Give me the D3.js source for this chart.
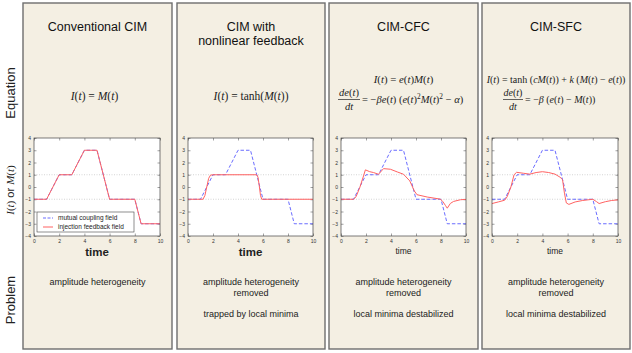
<!DOCTYPE html>
<html><head><meta charset="utf-8">
<script src="https://cdn.jsdelivr.net/npm/d3@7"></script>
<style>body{margin:0;background:#fff}svg{display:block}</style></head>
<body>
<script>
// ---- data ----
const panelTitles = [["Conventional CIM"], ["CIM with", "nonlinear feedback"], ["CIM-CFC"], ["CIM-SFC"]];
const problemTexts = [
  ["amplitude heterogeneity"],
  ["amplitude heterogeneity", "removed", "", "trapped by local minima"],
  ["amplitude heterogeneity", "removed", "", "local minima destabilized"],
  ["amplitude heterogeneity", "removed", "", "local minima destabilized"]
];
const xTicks = [0, 2, 4, 6, 8, 10];
const yTicks = [-4, -3, -2, -1, 0, 1, 2, 3, 4];
const refLines = [-1, 1];

const mutualT = [0, 1, 2, 3, 4, 5, 6, 8, 8.5, 10];
const mutualV = [-1, -1, 1, 1, 3, 3, -1, -1, -3, -3];

const inj1T = [0, 1, 2, 3, 4, 5, 6, 8, 8.5, 10];
const inj1V = [-1, -1, 1, 1, 3, 3, -1, -1, -3, -3];

const inj2T = [0, 1.2, 1.35, 1.5, 1.65, 1.8, 2, 5.5, 5.6, 5.7, 5.8, 5.9, 10];
const inj2V = [-1, -1, -0.7, 0, 0.7, 0.97, 1, 1, 0.8, 0.1, -0.7, -1, -1];

const inj3T = [0, 1, 1.2, 1.5, 1.8, 1.95, 2.3, 2.6, 3.0, 3.4, 3.95, 4.5, 5.0, 5.5, 5.87, 6.08, 6.9, 7.95, 8.15, 8.35, 8.5, 8.75, 9.0, 9.55, 10];
const inj3V = [-1, -1, -0.8, -0.05, 0.9, 1.4, 1.25, 1.18, 1.04, 1.5, 1.45, 1.23, 1.04, 0.5, -0.33, -0.63, -0.82, -0.99, -1.2, -1.5, -1.73, -1.34, -1.18, -1.04, -1.01];

const inj4T = [0, 0.5, 1, 1.2, 1.5, 1.75, 1.95, 2.5, 3, 3.5, 4, 4.5, 5, 5.4, 5.6, 5.75, 5.9, 6.1, 6.6, 7.2, 8, 8.3, 8.5, 9, 9.5, 10];
const inj4V = [-1.35, -1.22, -1.08, -0.8, 0, 1.0, 1.2, 1.12, 1.05, 1.18, 1.25, 1.18, 1.05, 0.8, 0.6, -0.5, -1.3, -1.42, -1.22, -1.1, -1.0, -1.2, -1.35, -1.2, -1.1, -1.05];

const injection = [[inj1T, inj1V], [inj2T, inj2V], [inj3T, inj3V], [inj4T, inj4V]];
const legendLabels = ["mutual coupling field", "injection feedback field"];

// ---- layout ----
const W = 632, H = 353;
const panels = [
  {x0: 23, x1: 172, px0: 34, px1: 160, timeBig: true},
  {x0: 177, x1: 325, px0: 188, px1: 313, timeBig: true},
  {x0: 329, x1: 478, px0: 341, px1: 466, timeBig: false},
  {x0: 482, x1: 630, px0: 492, px1: 618, timeBig: false}
];
const pTop = 3, pBot = 349, plotTop = 138, plotBot = 236;
const blue = "#6a6cff", red = "#ff6262";
const sans = "'Liberation Sans', Arial, Helvetica, sans-serif";
const serif = "'Liberation Serif', 'Times New Roman', serif";

const svg = d3.select("body").append("svg").attr("width", W).attr("height", H);

// math text helper: letters italic, 'tanh' roman
function mathText(sel, str, size) {
  const t = sel.attr("font-family", serif).attr("font-size", size).attr("fill", "#222");
  const re = /(tanh)|([A-Za-zαβ])|([^A-Za-zαβ]+)/g;
  let m;
  while ((m = re.exec(str)) !== null) {
    if (m[1]) t.append("tspan").text(m[1]);
    else if (m[2]) t.append("tspan").attr("font-style", "italic").text(m[2]);
    else t.append("tspan").text(m[3]);
  }
  return t;
}
function sup(t, s) { t.append("tspan").attr("baseline-shift", "super").attr("font-size", "70%").text(s); }

// left labels
svg.append("text").attr("transform", "translate(15,93) rotate(-90)").attr("text-anchor", "middle")
  .attr("font-family", sans).attr("font-size", 13).attr("fill", "#222").text("Equation");
svg.append("text").attr("transform", "translate(15,300) rotate(-90)").attr("text-anchor", "middle")
  .attr("font-family", sans).attr("font-size", 13).attr("fill", "#222").text("Problem");
{
  const t = svg.append("text").attr("transform", "translate(14,190) rotate(-90)").attr("text-anchor", "middle");
  mathText(t, "I(t)", 11);
  t.append("tspan").attr("font-family", sans).attr("font-style", "normal").text(" or ");
  t.append("tspan").attr("font-style", "italic").text("M");
  t.append("tspan").text("(");
  t.append("tspan").attr("font-style", "italic").text("t");
  t.append("tspan").text(")");
}

panels.forEach((p, i) => {
  const g = svg.append("g");
  const cx = (p.x0 + p.x1) / 2;
  g.append("rect").attr("x", p.x0).attr("y", pTop).attr("width", p.x1 - p.x0).attr("height", pBot - pTop)
    .attr("fill", "#f4efe3").attr("stroke", "#6e6e6e").attr("stroke-width", 1.4);

  // titles
  panelTitles[i].forEach((s, k) => {
    g.append("text").attr("x", cx).attr("y", 31 + k * 14).attr("text-anchor", "middle")
      .attr("font-family", sans).attr("font-size", 12.5).attr("fill", "#111").text(s);
  });

  // equations
  if (i === 0) {
    mathText(g.append("text").attr("x", cx - 3).attr("y", 100).attr("text-anchor", "middle"), "I(t) = M(t)", 11.5);
  } else if (i === 1) {
    mathText(g.append("text").attr("x", cx).attr("y", 100).attr("text-anchor", "middle"), "I(t) = tanh(M(t))", 11.5);
  } else if (i === 2) {
    mathText(g.append("text").attr("x", cx).attr("y", 83).attr("text-anchor", "middle"), "I(t) = e(t)M(t)", 10.8);
    const fx = p.x0 + 20;
    mathText(g.append("text").attr("x", fx).attr("y", 96).attr("text-anchor", "middle"), "de(t)", 10.5);
    g.append("line").attr("x1", fx - 11).attr("x2", fx + 11).attr("y1", 99.5).attr("y2", 99.5).attr("stroke", "#222").attr("stroke-width", 0.7);
    mathText(g.append("text").attr("x", fx).attr("y", 109.5).attr("text-anchor", "middle"), "dt", 10.5);
    const t = mathText(g.append("text").attr("x", fx + 13).attr("y", 103), " = −βe(t) (e(t)", 10.5);
    sup(t, "2");
    t.append("tspan").attr("font-style", "italic").text("M");
    t.append("tspan").text("(");
    t.append("tspan").attr("font-style", "italic").text("t");
    t.append("tspan").text(")");
    sup(t, "2");
    t.append("tspan").text(" − ");
    t.append("tspan").attr("font-style", "italic").text("α");
    t.append("tspan").text(")");
  } else {
    mathText(g.append("text").attr("x", cx).attr("y", 83).attr("text-anchor", "middle"), "I(t) = tanh (cM(t)) + k (M(t) − e(t))", 10);
    const fx = p.x0 + 31;
    mathText(g.append("text").attr("x", fx).attr("y", 96).attr("text-anchor", "middle"), "de(t)", 10);
    g.append("line").attr("x1", fx - 10).attr("x2", fx + 10).attr("y1", 99.5).attr("y2", 99.5).attr("stroke", "#222").attr("stroke-width", 0.7);
    mathText(g.append("text").attr("x", fx).attr("y", 109.5).attr("text-anchor", "middle"), "dt", 10);
    mathText(g.append("text").attr("x", fx + 12).attr("y", 103), " = −β (e(t) − M(t))", 10);
  }

  // chart
  const x = d3.scaleLinear().domain([0, 10]).range([p.px0, p.px1]);
  const y = d3.scaleLinear().domain([-4, 4]).range([plotBot, plotTop]);
  g.append("rect").attr("x", p.px0).attr("y", plotTop).attr("width", p.px1 - p.px0).attr("height", plotBot - plotTop).attr("fill", "#fff");
  refLines.forEach(v => {
    g.append("line").attr("x1", p.px0).attr("x2", p.px1).attr("y1", y(v)).attr("y2", y(v))
      .attr("stroke", "#b8b8b8").attr("stroke-width", 0.6).attr("stroke-dasharray", "1,1.5");
  });

  const fmt = d => d < 0 ? "−" + Math.abs(d) : String(d);
  const styleAxis = a => {
    a.select(".domain").remove();
    a.selectAll(".tick line").attr("stroke", "#444").attr("stroke-width", 0.5);
    a.selectAll(".tick text").attr("font-family", sans).attr("font-size", 5).attr("fill", "#333");
  };
  g.append("g").attr("transform", `translate(0,${plotBot})`)
    .call(d3.axisBottom(x).tickValues(xTicks).tickFormat(fmt).tickSizeInner(-2.5).tickPadding(3)).call(styleAxis);
  g.append("g").attr("transform", `translate(0,${plotTop})`)
    .call(d3.axisTop(x).tickValues(xTicks).tickFormat("").tickSizeInner(-2.5)).call(styleAxis);
  g.append("g").attr("transform", `translate(${p.px0},0)`)
    .call(d3.axisLeft(y).tickValues(yTicks).tickFormat(fmt).tickSizeInner(-2.5).tickPadding(3)).call(styleAxis);
  g.append("g").attr("transform", `translate(${p.px1},0)`)
    .call(d3.axisRight(y).tickValues(yTicks).tickFormat("").tickSizeInner(-2.5)).call(styleAxis);

  const line = d3.line().x(d => x(d[0])).y(d => y(d[1]));
  const mData = mutualT.map((t, k) => [t, mutualV[k]]);
  const [it, iv] = injection[i];
  const iData = it.map((t, k) => [t, iv[k]]);
  g.append("path").attr("d", line(mData)).attr("fill", "none").attr("stroke", blue).attr("stroke-width", 1)
    .attr("stroke-dasharray", "3.5,2");
  g.append("path").attr("d", line(iData)).attr("fill", "none").attr("stroke", red).attr("stroke-width", 1);

  g.append("rect").attr("x", p.px0).attr("y", plotTop).attr("width", p.px1 - p.px0).attr("height", plotBot - plotTop)
    .attr("fill", "none").attr("stroke", "#444").attr("stroke-width", 0.7);

  if (i === 0) {
    const lg = g.append("g");
    lg.append("rect").attr("x", 37).attr("y", 212).attr("width", 97).attr("height", 20)
      .attr("fill", "#fff").attr("stroke", "#444").attr("stroke-width", 0.6);
    legendLabels.forEach((s, k) => {
      const yy = 218 + k * 9;
      lg.append("line").attr("x1", 43).attr("x2", 53).attr("y1", yy).attr("y2", yy)
        .attr("stroke", k === 0 ? blue : red).attr("stroke-width", 1).attr("stroke-dasharray", k === 0 ? "3,1.5" : null);
      lg.append("text").attr("x", 58).attr("y", yy + 2.3).attr("font-family", sans).attr("font-size", 6.5)
        .attr("fill", "#222").text(s);
    });
  }

  // time label
  g.append("text").attr("x", (p.px0 + p.px1) / 2).attr("y", p.timeBig ? 255.5 : 254).attr("text-anchor", "middle")
    .attr("font-family", sans).attr("font-size", p.timeBig ? 11.5 : 8.5).attr("font-weight", p.timeBig ? 600 : 400)
    .attr("fill", "#222").text("time");

  // problem text
  problemTexts[i].forEach((s, k) => {
    if (!s) return;
    g.append("text").attr("x", cx).attr("y", 285 + k * 10.7).attr("text-anchor", "middle")
      .attr("font-family", sans).attr("font-size", 9).attr("fill", "#222").text(s);
  });
});
</script>
</body></html>
